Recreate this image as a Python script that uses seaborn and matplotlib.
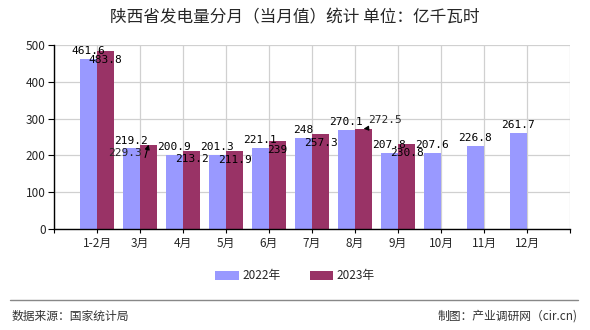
import matplotlib
matplotlib.use("Agg")
import matplotlib.pyplot as plt
import seaborn as sns
import pandas as pd

months = ["1-2月", "3月", "4月", "5月", "6月", "7月", "8月", "9月", "10月", "11月", "12月"]
v2022 = [461.6, 219.2, 200.9, 201.3, 221.1, 248, 270.1, 207.8, 207.6, 226.8, 261.7]
v2023 = [483.8, 229.3, 213.2, 211.9, 239, 257.3, 272.5, 230.8]
years = ["2022年", "2023年"]
colors = ["#9999FF", "#993366"]
title = "陕西省发电量分月（当月值）统计 单位：亿千瓦时"
source = "数据来源：国家统计局"
credit = "制图：产业调研网（cir.cn)"

sns.set_theme(style="white")
plt.rcParams["font.family"] = ["Noto Sans CJK SC", "DejaVu Sans"]

rows = []
for m, v in zip(months, v2022):
    rows.append({"month": m, "year": years[0], "value": v})
for m, v in zip(months, v2023):
    rows.append({"month": m, "year": years[1], "value": v})
df = pd.DataFrame(rows)

fig = plt.figure(figsize=(5.9, 3.3), dpi=100)
ax = fig.add_axes([54 / 590, 1 - 229 / 330, 516 / 590, 184 / 330])
sns.barplot(data=df, x="month", y="value", hue="year", order=months, hue_order=years,
            palette=colors, width=0.8, saturation=1, ax=ax, legend=True,
            linewidth=0, edgecolor="none")

ax.set_xlim(-1, 11)
ax.set_ylim(0, 500)
ax.set_yticks([0, 100, 200, 300, 400, 500])
ax.set_xticks(range(-1, 12), minor=True)
ax.grid(True, axis="y", color="#d0d0d0", lw=0.9)
for xv in range(-1, 12):
    ax.axvline(xv, color="#d0d0d0", lw=0.9, zorder=0)
ax.set_axisbelow(True)
for s in ["top", "right"]:
    ax.spines[s].set_visible(False)
for s in ["left", "bottom"]:
    ax.spines[s].set_color("black")
    ax.spines[s].set_linewidth(1)
    ax.spines[s].set_zorder(5)
ax.tick_params(axis="y", which="major", length=4, width=0.8, color="black",
               labelsize=8.5, pad=2, left=True)
ax.tick_params(axis="x", which="major", length=3, width=0.8, color="black",
               labelsize=8.5, pad=3, bottom=True)
ax.tick_params(axis="x", which="minor", length=3, width=0.8, color="black", bottom=True)
ax.set_xlabel("")
ax.set_ylabel("")

mono = "DejaVu Sans Mono"
bw = 0.4
for i, v in enumerate(v2022):
    ax.annotate(f"{v:g}", (i - bw / 2, v), xytext=(0, 2), textcoords="offset points",
                ha="center", va="bottom", fontsize=8, family=mono, color="black")
for i, v in enumerate(v2023):
    x = i + bw / 2
    if i == 1:
        ax.annotate(f"{v:g}", (x, v), xytext=(-17, -6), textcoords="offset points",
                    ha="center", va="center", fontsize=8, family=mono,
                    arrowprops=dict(arrowstyle="-|>", color="black", lw=0.8, shrinkA=0,
                                    shrinkB=0, relpos=(0, 0), mutation_scale=7,
                                    connectionstyle="angle,angleA=0,angleB=75,rad=0"))
    elif i == 6:
        ax.annotate(f"{v:g}", (x, v), xytext=(15.5, 6.3), textcoords="offset points",
                    ha="center", va="center", fontsize=8, family=mono,
                    arrowprops=dict(arrowstyle="-|>", color="black", lw=0.8, shrinkA=0,
                                    shrinkB=0, relpos=(1, 0), mutation_scale=7))
    else:
        ax.annotate(f"{v:g}", (x, v), xytext=(0, -6.2), textcoords="offset points",
                    ha="center", va="center", fontsize=8, family=mono, color="black")

leg = ax.legend(loc="center", bbox_to_anchor=(295 / 590, 1 - 276 / 330),
                bbox_transform=fig.transFigure, ncol=2, frameon=False, fontsize=8.5,
                handlelength=2.0, handleheight=0.9, columnspacing=2.5, handletextpad=0.3)

fig.text(0.5, 1 - 18 / 330, title, ha="center", va="center", fontsize=12)
fig.add_artist(plt.Line2D([10 / 590, 578 / 590], [1 - 300 / 330, 1 - 300 / 330],
                          color="#888888", lw=1, transform=fig.transFigure))
fig.text(12 / 590, 1 - 316 / 330, source, ha="left", va="center", fontsize=8.5, color="#333333")
fig.text(578 / 590, 1 - 316 / 330, credit, ha="right", va="center", fontsize=8.5, color="#333333")

fig.savefig("out.png", dpi=100)
